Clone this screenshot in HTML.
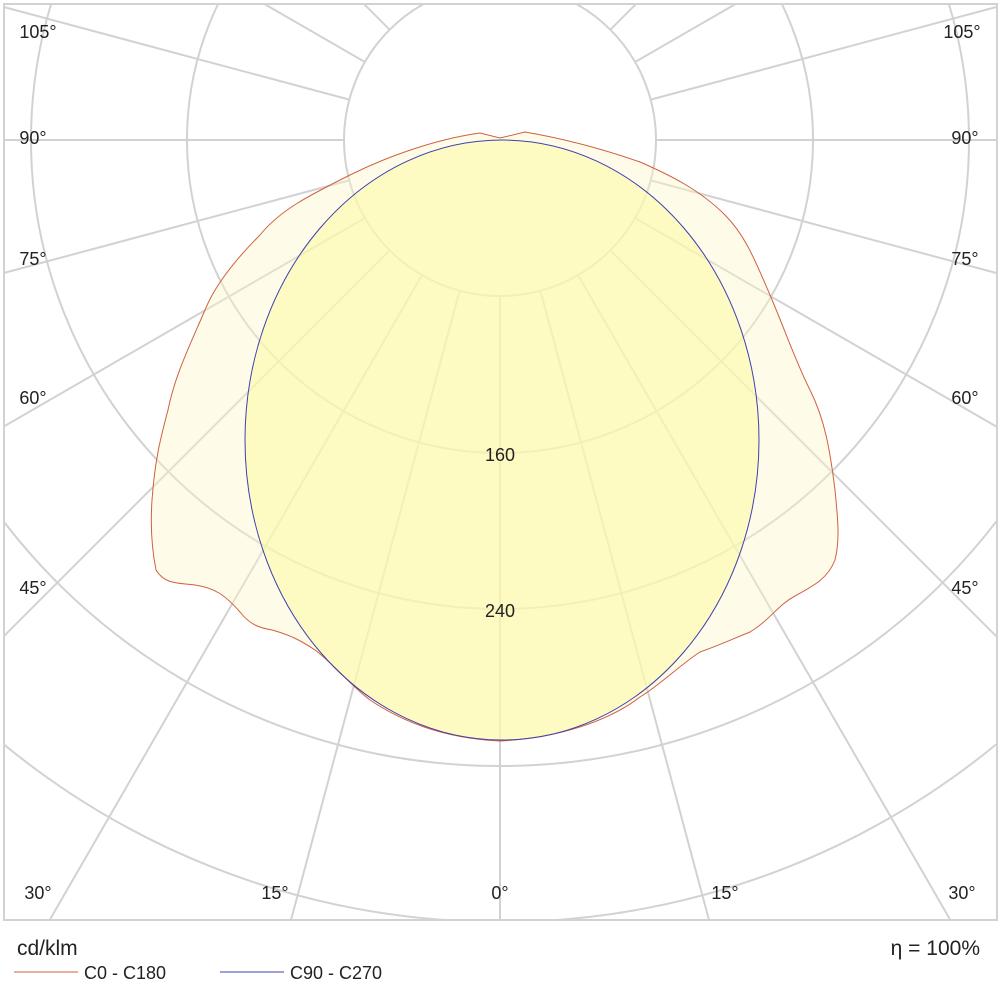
<!DOCTYPE html>
<html><head><style>
html,body{margin:0;padding:0;background:#fff;width:1000px;height:998px;overflow:hidden;position:relative;}
svg{position:absolute;left:0;top:0;font-family:"Liberation Sans",sans-serif;}
</style></head><body>
<svg width="1000" height="998" viewBox="0 0 1000 998">
<defs><clipPath id="c"><rect x="4" y="4" width="993" height="916"/></clipPath></defs>
<rect x="0" y="0" width="1000" height="998" fill="#fff"/>
<g clip-path="url(#c)">
<g stroke="#d2d2d2" stroke-width="2" fill="none">
<circle cx="500" cy="140" r="156"/>
<circle cx="500" cy="140" r="313"/>
<circle cx="500" cy="140" r="469"/>
<circle cx="500" cy="140" r="626"/>
<circle cx="500" cy="140" r="782"/>
<line x1="500" y1="296" x2="500" y2="1700"/>
<line x1="500" y1="296" x2="500" y2="1700" transform="rotate(15 500 140)"/>
<line x1="500" y1="296" x2="500" y2="1700" transform="rotate(30 500 140)"/>
<line x1="500" y1="296" x2="500" y2="1700" transform="rotate(45 500 140)"/>
<line x1="500" y1="296" x2="500" y2="1700" transform="rotate(60 500 140)"/>
<line x1="500" y1="296" x2="500" y2="1700" transform="rotate(75 500 140)"/>
<line x1="500" y1="296" x2="500" y2="1700" transform="rotate(90 500 140)"/>
<line x1="500" y1="296" x2="500" y2="1700" transform="rotate(105 500 140)"/>
<line x1="500" y1="296" x2="500" y2="1700" transform="rotate(120 500 140)"/>
<line x1="500" y1="296" x2="500" y2="1700" transform="rotate(135 500 140)"/>
<line x1="500" y1="296" x2="500" y2="1700" transform="rotate(150 500 140)"/>
<line x1="500" y1="296" x2="500" y2="1700" transform="rotate(165 500 140)"/>
<line x1="500" y1="296" x2="500" y2="1700" transform="rotate(-15 500 140)"/>
<line x1="500" y1="296" x2="500" y2="1700" transform="rotate(-30 500 140)"/>
<line x1="500" y1="296" x2="500" y2="1700" transform="rotate(-45 500 140)"/>
<line x1="500" y1="296" x2="500" y2="1700" transform="rotate(-60 500 140)"/>
<line x1="500" y1="296" x2="500" y2="1700" transform="rotate(-75 500 140)"/>
<line x1="500" y1="296" x2="500" y2="1700" transform="rotate(-90 500 140)"/>
<line x1="500" y1="296" x2="500" y2="1700" transform="rotate(-105 500 140)"/>
<line x1="500" y1="296" x2="500" y2="1700" transform="rotate(-120 500 140)"/>
<line x1="500" y1="296" x2="500" y2="1700" transform="rotate(-135 500 140)"/>
<line x1="500" y1="296" x2="500" y2="1700" transform="rotate(-150 500 140)"/>
<line x1="500" y1="296" x2="500" y2="1700" transform="rotate(-165 500 140)"/>
</g>
<path d="M480,133 C430,140 380,160 350,175 C310,195 280,210 260,235 C235,260 215,285 205,310 C190,345 175,375 168,410 C160,440 155,460 152,500 C150,530 153,555 156,570 C165,585 180,583 195,585 C215,588 225,595 240,612 C250,625 260,628 272,630 C290,635 300,640 315,650 C335,665 350,685 370,700 C400,720 440,738 500,741 C560,738 610,720 640,697 C660,685 680,665 700,652 C720,645 735,638 750,632 C770,620 778,605 795,596 C815,585 828,578 835,560 C840,540 838,520 835,490 C830,450 825,420 810,390 C795,360 785,330 770,295 C755,260 745,235 725,215 C700,190 670,175 640,162 C600,148 560,138 525,132 L500,138 Z" fill="#fcf8c8" fill-opacity="0.4"/>
<ellipse cx="502" cy="440" rx="257" ry="300" fill="#fcf9a8" fill-opacity="0.6"/>
<path d="M480,133 C430,140 380,160 350,175 C310,195 280,210 260,235 C235,260 215,285 205,310 C190,345 175,375 168,410 C160,440 155,460 152,500 C150,530 153,555 156,570 C165,585 180,583 195,585 C215,588 225,595 240,612 C250,625 260,628 272,630 C290,635 300,640 315,650 C335,665 350,685 370,700 C400,720 440,738 500,741 C560,738 610,720 640,697 C660,685 680,665 700,652 C720,645 735,638 750,632 C770,620 778,605 795,596 C815,585 828,578 835,560 C840,540 838,520 835,490 C830,450 825,420 810,390 C795,360 785,330 770,295 C755,260 745,235 725,215 C700,190 670,175 640,162 C600,148 560,138 525,132 L500,138 Z" fill="none" stroke="#d06040" stroke-width="1"/>
<ellipse cx="502" cy="440" rx="257" ry="300" fill="none" stroke="#4040b0" stroke-width="1"/>
</g>
<rect x="4" y="4" width="993" height="916" fill="none" stroke="#d2d2d2" stroke-width="2"/>
<g font-size="18" fill="#222" text-anchor="middle">
<text x="500" y="461">160</text>
<text x="500" y="617">240</text>
<text x="38" y="38">105°</text><text x="962" y="38">105°</text>
<text x="33" y="144">90°</text><text x="965" y="144">90°</text>
<text x="33" y="265">75°</text><text x="965" y="265">75°</text>
<text x="33" y="404">60°</text><text x="965" y="404">60°</text>
<text x="33" y="594">45°</text><text x="965" y="594">45°</text>
<text x="38" y="899">30°</text><text x="962" y="899">30°</text>
<text x="275" y="899">15°</text><text x="725" y="899">15°</text>
<text x="500" y="899">0°</text>
</g>
<text x="17" y="955" font-size="21" fill="#222">cd/klm</text>
<text x="980" y="955" font-size="21" fill="#222" text-anchor="end">η = 100%</text>
<line x1="14" y1="972" x2="78" y2="972" stroke="#d06040" stroke-width="1"/>
<text x="84" y="979" font-size="18" fill="#222">C0 - C180</text>
<line x1="220" y1="972" x2="284" y2="972" stroke="#4040b0" stroke-width="1"/>
<text x="290" y="979" font-size="18" fill="#222">C90 - C270</text>
</svg>
</body></html>
